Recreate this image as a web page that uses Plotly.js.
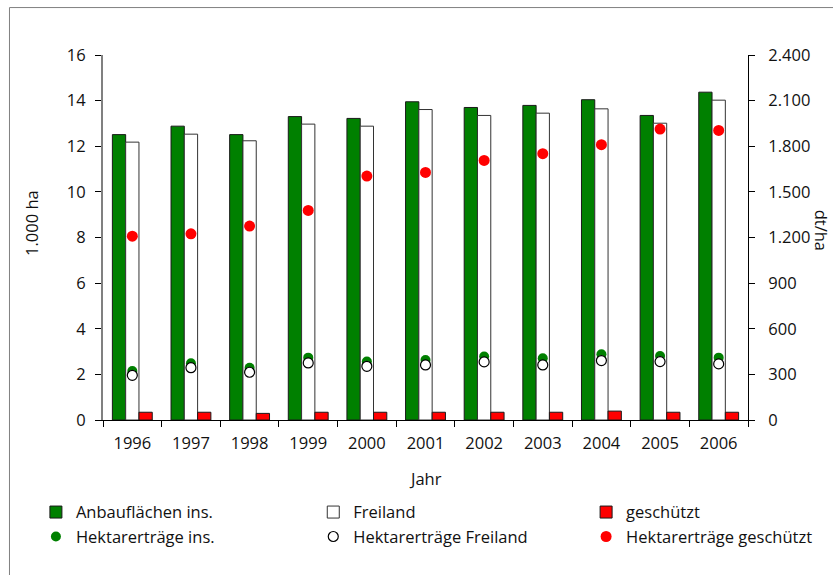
<!DOCTYPE html>
<html>
<head>
<meta charset="utf-8">
<script src="https://cdn.plot.ly/plotly-3.0.1.min.js"></script>
<style>html,body{margin:0;padding:0;background:#fff;}#chart{width:833px;height:575px;}</style>
</head>
<body>
<div id="chart"></div>
<script>
const years = ['1996','1997','1998','1999','2000','2001','2002','2003','2004','2005','2006'];
// Anbauflächen (1.000 ha)
const areaTotal   = [12.51, 12.88, 12.51, 13.30, 13.22, 13.95, 13.70, 13.79, 14.04, 13.35, 14.37];
const areaOpen    = [12.18, 12.53, 12.24, 12.97, 12.88, 13.61, 13.35, 13.45, 13.64, 13.01, 14.02];
const areaCovered = [0.34, 0.34, 0.29, 0.34, 0.34, 0.34, 0.34, 0.34, 0.39, 0.34, 0.34];
// Hektarerträge (dt/ha)
const yieldTotal   = [322, 373, 344, 410, 384, 395, 417, 406, 432, 421, 410];
const yieldOpen    = [294, 344, 314, 375, 353, 362, 382, 362, 391, 384, 369];
const yieldCovered = [1209, 1224, 1275, 1378, 1604, 1628, 1707, 1751, 1810, 1913, 1904];

const FONT = 'Open Sans, Lato, sans-serif';
const TXT = '#111111';
const FS = 16.5;

const traces = [
  {type:'bar', name:'Anbauflächen ins.', x:years, y:areaTotal, legend:'legend',
   marker:{color:'#008000', line:{color:'#1a1a1a', width:1}}},
  {type:'bar', name:'Freiland', x:years, y:areaOpen, legend:'legend2',
   marker:{color:'#ffffff', line:{color:'#333333', width:1}}},
  {type:'bar', name:'geschützt', x:years, y:areaCovered, legend:'legend3',
   marker:{color:'#ff0000', line:{color:'#1a1a1a', width:1}}},
  {type:'scatter', mode:'markers', name:'Hektarerträge ins.', x:years, y:yieldTotal, yaxis:'y2', legend:'legend',
   marker:{color:'#008000', size:10, line:{width:0}}},
  {type:'scatter', mode:'markers', name:'Hektarerträge Freiland', x:years, y:yieldOpen, yaxis:'y2', legend:'legend2',
   marker:{color:'#ffffff', size:10, line:{color:'#000000', width:1.2}}},
  {type:'scatter', mode:'markers', name:'Hektarerträge geschützt', x:years, y:yieldCovered, yaxis:'y2', legend:'legend3',
   marker:{color:'#ff0000', size:11, line:{width:0}}}
];

const legendBase = {orientation:'v', yanchor:'top', xanchor:'left', y:-0.205,
  bgcolor:'rgba(0,0,0,0)', borderwidth:0, font:{family:FONT, size:FS, color:TXT}, tracegroupgap:0};

const layout = {
  width:833, height:575,
  margin:{l:103, r:85, t:55, b:155},
  paper_bgcolor:'#ffffff', plot_bgcolor:'#ffffff',
  font:{family:FONT, size:FS, color:TXT},
  separators:',.',
  barmode:'group', bargap:0.32, bargroupgap:0,
  showlegend:true,
  legend:Object.assign({}, legendBase, {x:-0.104}),
  legend2:Object.assign({}, legendBase, {x:0.326}),
  legend3:Object.assign({}, legendBase, {x:0.749}),
  xaxis:{type:'category', range:[-0.5, 10.5], tickson:'boundaries', ticks:'outside', ticklen:6, tickcolor:'#000',
    showline:true, linecolor:'#000', linewidth:1, showgrid:false, zeroline:false,
    tickfont:{family:FONT, size:FS, color:TXT}, ticklabelstandoff:8},
  yaxis:{range:[0,16], dtick:2, ticks:'outside', ticklen:6, tickcolor:'#000',
    showline:true, linecolor:'#808080', linewidth:2, showgrid:false, zeroline:false,
    tickfont:{family:FONT, size:FS, color:TXT}, ticklabelstandoff:6},
  yaxis2:{overlaying:'y', side:'right', range:[0,2400], dtick:300, ticks:'outside', ticklen:6, tickcolor:'#000',
    showline:true, linecolor:'#000', linewidth:1, showgrid:false, zeroline:false, separatethousands:true,
    tickfont:{family:FONT, size:FS, color:TXT}, ticklabelstandoff:10},
  annotations:[
    {text:'1.000 ha', xref:'paper', yref:'paper', x:-0.110, y:0.54, xanchor:'center', yanchor:'middle',
     textangle:-90, showarrow:false, font:{family:FONT, size:FS, color:TXT}},
    {text:'dt/ha', xref:'paper', yref:'paper', x:1.114, y:0.52, xanchor:'center', yanchor:'middle',
     textangle:90, showarrow:false, font:{family:FONT, size:FS, color:TXT}},
    {text:'Jahr', xref:'paper', yref:'paper', x:0.5, y:-0.159, xanchor:'center', yanchor:'middle',
     showarrow:false, font:{family:FONT, size:FS, color:TXT}}
  ],
  shapes:[
    {type:'rect', xref:'paper', yref:'paper', x0:-0.145, x1:2, y0:-2, y1:1.130,
     line:{color:'#808080', width:1}, fillcolor:'rgba(0,0,0,0)', layer:'below'}
  ]
};

Plotly.newPlot('chart', traces, layout, {displayModeBar:false, staticPlot:true});
</script>
</body>
</html>
